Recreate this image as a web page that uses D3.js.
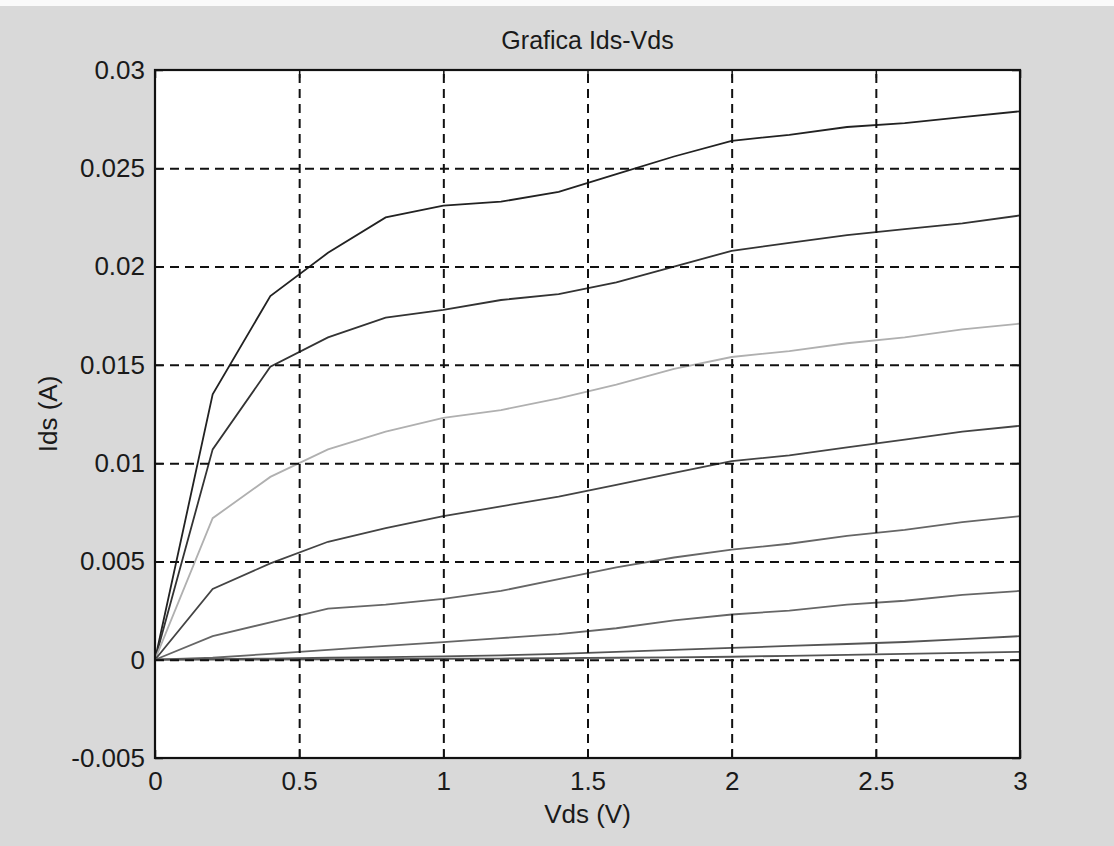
<!DOCTYPE html>
<html>
<head>
<meta charset="utf-8">
<script src="https://cdn.jsdelivr.net/npm/d3@7"></script>
<style>
  body { margin: 0; background: #d9d9d9; }
  svg { display: block; }
  text { font-family: "Liberation Sans", Arial, sans-serif; fill: #1a1a1a; }
</style>
</head>
<body>
<svg id="chart" width="1114" height="846"></svg>
<script>
// Vds sweep points (V)
const vds = [0, 0.2, 0.4, 0.6, 0.8, 1.0, 1.2, 1.4, 1.6, 1.8, 2.0, 2.2, 2.4, 2.6, 2.8, 3.0];

// Ids (A) for each gate voltage, top curve first
const ids1 = [0, 0.0135, 0.0185, 0.0207, 0.0225, 0.0231, 0.0233, 0.0238, 0.0247, 0.0256, 0.0264, 0.0267, 0.0271, 0.0273, 0.0276, 0.0279];
const ids2 = [0, 0.0107, 0.0149, 0.0164, 0.0174, 0.0178, 0.0183, 0.0186, 0.0192, 0.0200, 0.0208, 0.0212, 0.0216, 0.0219, 0.0222, 0.0226];
const ids3 = [0, 0.0072, 0.0093, 0.0107, 0.0116, 0.0123, 0.0127, 0.0133, 0.0140, 0.0148, 0.0154, 0.0157, 0.0161, 0.0164, 0.0168, 0.0171];
const ids4 = [0, 0.0036, 0.0049, 0.0060, 0.0067, 0.0073, 0.0078, 0.0083, 0.0089, 0.0095, 0.0101, 0.0104, 0.0108, 0.0112, 0.0116, 0.0119];
const ids5 = [0, 0.0012, 0.0019, 0.0026, 0.0028, 0.0031, 0.0035, 0.0041, 0.0047, 0.0052, 0.0056, 0.0059, 0.0063, 0.0066, 0.0070, 0.0073];
const ids6 = [0, 0.0001, 0.0003, 0.0005, 0.0007, 0.0009, 0.0011, 0.0013, 0.0016, 0.0020, 0.0023, 0.0025, 0.0028, 0.0030, 0.0033, 0.0035];
const ids7 = [0, 0.00003, 0.00006, 0.0001, 0.00013, 0.00017, 0.00022, 0.0003, 0.0004, 0.0005, 0.0006, 0.0007, 0.0008, 0.0009, 0.00105, 0.0012];
const ids8 = [0, 0, 0.00001, 0.00002, 0.00003, 0.00005, 0.00006, 0.00008, 0.0001, 0.00012, 0.00015, 0.0002, 0.00025, 0.0003, 0.00035, 0.0004];

const seriesColors = ['#222', '#333', '#b0b0b0', '#444', '#666', '#666', '#555', '#555'];

const xTicks = [0, 0.5, 1, 1.5, 2, 2.5, 3];
const yTicks = [-0.005, 0, 0.005, 0.01, 0.015, 0.02, 0.025, 0.03];
const xTickLabels = ['0', '0.5', '1', '1.5', '2', '2.5', '3'];
const yTickLabels = ['-0.005', '0', '0.005', '0.01', '0.015', '0.02', '0.025', '0.03'];

const title = 'Grafica Ids-Vds';
const xLabel = 'Vds (V)';
const yLabel = 'Ids (A)';

const svg = d3.select('#chart');
const margin = {left: 155, right: 94, top: 70, bottom: 88};
const width = 1114 - margin.left - margin.right;
const height = 846 - margin.top - margin.bottom;

// thin white strip across the top of the scan
svg.append('rect').attr('x', 0).attr('y', 0).attr('width', 1114).attr('height', 6).attr('fill', '#fafafa');

const x = d3.scaleLinear().domain([0, 3]).range([0, width]);
const y = d3.scaleLinear().domain([-0.005, 0.03]).range([height, 0]);

const g = svg.append('g').attr('transform', 'translate(' + margin.left + ',' + margin.top + ')');

g.append('rect')
  .attr('width', width)
  .attr('height', height)
  .attr('fill', '#fff');

// curves
const allSeries = [ids1, ids2, ids3, ids4, ids5, ids6, ids7, ids8];
const line = d3.line()
  .x((d, i) => x(vds[i]))
  .y(d => y(d));

g.selectAll('path.curve')
  .data(allSeries)
  .enter()
  .append('path')
  .attr('class', 'curve')
  .attr('d', line)
  .attr('fill', 'none')
  .attr('stroke', (d, i) => seriesColors[i])
  .attr('stroke-width', 1.8);

// dashed grid
g.append('g')
  .attr('transform', 'translate(0,' + height + ')')
  .call(d3.axisBottom(x).tickValues(xTicks.slice(1, -1)).tickSize(-height).tickFormat(''))
  .call(a => a.select('.domain').remove())
  .selectAll('line')
  .attr('stroke', '#111')
  .attr('stroke-width', 2)
  .attr('stroke-dasharray', '9,6');

g.append('g')
  .call(d3.axisLeft(y).tickValues(yTicks.slice(1, -1)).tickSize(-width).tickFormat(''))
  .call(a => a.select('.domain').remove())
  .selectAll('line')
  .attr('stroke', '#111')
  .attr('stroke-width', 2)
  .attr('stroke-dasharray', '9,6');

// tick labels
const xAxis = g.append('g')
  .attr('transform', 'translate(0,' + height + ')')
  .call(d3.axisBottom(x).tickValues(xTicks).tickSize(0).tickPadding(14)
    .tickFormat((d, i) => xTickLabels[i]));
xAxis.select('.domain').remove();
xAxis.selectAll('text').attr('font-size', 26).attr('fill', '#1a1a1a')
  .style('font-family', '"Liberation Sans", Arial, sans-serif');

const yAxis = g.append('g')
  .call(d3.axisLeft(y).tickValues(yTicks).tickSize(0).tickPadding(10)
    .tickFormat((d, i) => yTickLabels[i]));
yAxis.select('.domain').remove();
yAxis.selectAll('text').attr('font-size', 26).attr('fill', '#1a1a1a')
  .style('font-family', '"Liberation Sans", Arial, sans-serif');

// inward tick marks on all four sides
g.append('g')
  .call(d3.axisTop(x).tickValues(xTicks).tickSize(-8).tickFormat(''))
  .call(a => a.select('.domain').remove())
  .selectAll('line').attr('stroke', '#111').attr('stroke-width', 1.5);
g.append('g')
  .attr('transform', 'translate(0,' + height + ')')
  .call(d3.axisBottom(x).tickValues(xTicks).tickSize(-8).tickFormat(''))
  .call(a => a.select('.domain').remove())
  .selectAll('line').attr('stroke', '#111').attr('stroke-width', 1.5);
g.append('g')
  .call(d3.axisLeft(y).tickValues(yTicks).tickSize(-8).tickFormat(''))
  .call(a => a.select('.domain').remove())
  .selectAll('line').attr('stroke', '#111').attr('stroke-width', 1.5);
g.append('g')
  .attr('transform', 'translate(' + width + ',0)')
  .call(d3.axisRight(y).tickValues(yTicks).tickSize(-8).tickFormat(''))
  .call(a => a.select('.domain').remove())
  .selectAll('line').attr('stroke', '#111').attr('stroke-width', 1.5);

// axes box
g.append('rect')
  .attr('width', width)
  .attr('height', height)
  .attr('fill', 'none')
  .attr('stroke', '#111')
  .attr('stroke-width', 2.2);

// title and axis labels
svg.append('text')
  .attr('x', margin.left + width / 2)
  .attr('y', 49)
  .attr('text-anchor', 'middle')
  .attr('font-size', 25)
  .text(title);

svg.append('text')
  .attr('x', margin.left + width / 2)
  .attr('y', 823)
  .attr('text-anchor', 'middle')
  .attr('font-size', 26)
  .text(xLabel);

svg.append('text')
  .attr('transform', 'translate(57,' + (margin.top + height / 2) + ') rotate(-90)')
  .attr('text-anchor', 'middle')
  .attr('font-size', 26)
  .text(yLabel);
</script>
</body>
</html>
